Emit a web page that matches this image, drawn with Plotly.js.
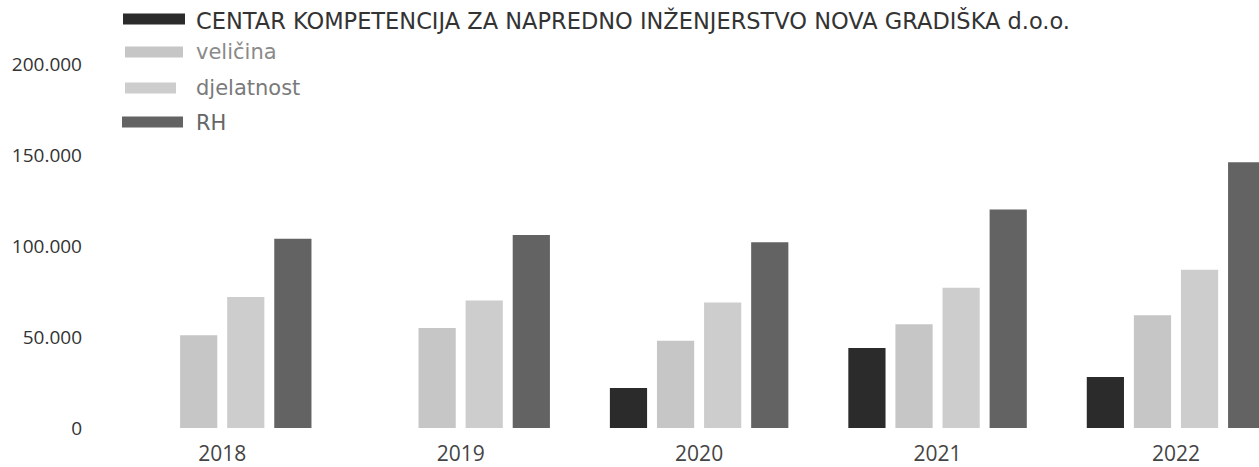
<!DOCTYPE html>
<html>
<head>
<meta charset="utf-8">
<script src="https://cdn.plot.ly/plotly-3.0.1.min.js"></script>
<style>html,body{margin:0;padding:0;background:#fff;}#chart{width:1259px;height:467px;}</style>
</head>
<body>
<div id="chart"></div>
<script>
const years = ['2018', '2019', '2020', '2021', '2022'];
const seriesNames = ['CENTAR KOMPETENCIJA ZA NAPREDNO INŽENJERSTVO NOVA GRADIŠKA d.o.o.', 'veličina', 'djelatnost', 'RH'];
const company = [null, null, 22000, 44000, 28000];
const velicina = [51000, 55000, 48000, 57000, 62000];
const djelatnost = [72000, 70000, 69000, 77000, 87000];
const rh = [104000, 106000, 102000, 120000, 146000];
const yTicks = [0, 50000, 100000, 150000, 200000];

const colors = ['#2b2b2b', '#c6c6c6', '#cdcdcd', '#636363'];
const textColors = ['#333333', '#8a8a8a', '#7a7a7a', '#666666'];
const textSizes = [22.5, 21, 21, 21];

const W = 1259, H = 467;
const ML = 103, MR = 0, MT = 64, MB = 39;
const PW = W - ML - MR, PH = H - MT - MB;

const data = [company, velicina, djelatnost, rh].map((vals, i) => ({
  type: 'bar',
  x: years,
  y: vals,
  name: seriesNames[i],
  marker: {color: colors[i], line: {width: 0}},
  hoverinfo: 'x+y+name'
}));

// custom legend (wide swatches like the reference)
const px = x => (x - ML) / PW;
const py = y => (H - MB - y) / PH;
const legendRows = [19, 52, 88, 122];
const textRows = [21, 52, 88, 123];
const swatchW = [[123, 185], [125, 183], [125, 176], [122, 183]];
const shapes = [], annotations = [];
legendRows.forEach((yc, i) => {
  shapes.push({
    type: 'rect', xref: 'paper', yref: 'paper',
    x0: px(swatchW[i][0]), x1: px(swatchW[i][1]),
    y0: py(yc + 5.5), y1: py(yc - 5.5),
    fillcolor: colors[i], line: {width: 0}
  });
  annotations.push({
    xref: 'paper', yref: 'paper', x: px(194), y: py(textRows[i]),
    xanchor: 'left', yanchor: 'middle', showarrow: false,
    text: seriesNames[i],
    font: {family: 'DejaVu Sans, sans-serif', size: textSizes[i], color: textColors[i]}
  });
});

const layout = {
  width: W, height: H,
  margin: {l: ML, r: MR, t: MT, b: MB, pad: 0},
  paper_bgcolor: '#ffffff', plot_bgcolor: '#ffffff',
  separators: ',.',
  showlegend: false,
  barmode: 'group',
  bargap: 0.21,
  bargroupgap: 0.21,
  xaxis: {
    type: 'category',
    range: [-0.5, 4.348],
    showgrid: false, zeroline: false, showline: false,
    ticks: '', ticklabelstandoff: 11,
    tickfont: {family: 'Open Sans, sans-serif', size: 21, color: '#444444'},
    fixedrange: true
  },
  yaxis: {
    range: [0, 200000],
    tickvals: yTicks,
    tickformat: ',d',
    showgrid: false, zeroline: false, showline: false,
    ticks: '', ticklabelstandoff: 20,
    tickfont: {family: 'Open Sans, sans-serif', size: 19, color: '#333333'},
    fixedrange: true
  },
  shapes: shapes,
  annotations: annotations
};

Plotly.newPlot('chart', data, layout, {displayModeBar: false, staticPlot: true});
</script>
</body>
</html>
